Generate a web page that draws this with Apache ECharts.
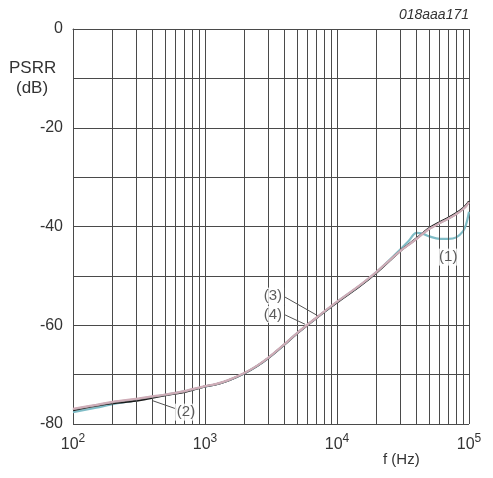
<!DOCTYPE html>
<html>
<head>
<meta charset="utf-8">
<script src="https://cdn.jsdelivr.net/npm/echarts@6/dist/echarts.min.js"></script>
<style>
html,body{margin:0;padding:0;background:#fff;}
#c{width:493px;height:478px;}
</style>
</head>
<body>
<div id="c"></div>
<script>
// frequencies (Hz)
var freq = [100,150,200,300,400,500,700,1000,1200,1500,2000,2500,3000,4000,5000,7000,10000,15000,20000,30000,35000,40000,45000,50000,60000,70000,80000,90000,95000,100000];
// PSRR (dB) curves
var curve1 = [-77.6,-76.7,-76.0,-75.2,-74.5,-74.1,-73.4,-72.4,-72.0,-71.2,-69.7,-68.2,-66.7,-63.9,-61.6,-58.5,-55.3,-51.9,-49.2,-44.7,-42.9,-41.3,-41.5,-42.0,-42.5,-42.5,-42.2,-41.0,-39.6,-37.0];
var curve2 = [-77.2,-76.3,-75.8,-75.3,-74.7,-74.2,-73.5,-72.4,-72.0,-71.2,-69.7,-68.2,-66.7,-63.9,-61.6,-58.5,-55.4,-52.0,-49.3,-45.0,-43.6,-42.4,-41.3,-40.3,-39.1,-38.2,-37.3,-36.3,-35.7,-34.9];
var curve3 = [-76.9,-76.1,-75.5,-74.9,-74.4,-74.0,-73.3,-72.3,-71.9,-71.1,-69.6,-68.1,-66.6,-63.8,-61.5,-58.4,-55.2,-51.8,-49.1,-45.0,-43.7,-42.5,-41.4,-40.5,-39.3,-38.4,-37.5,-36.5,-35.9,-35.1];
var curve4 = [-77.0,-76.2,-75.6,-75.0,-74.5,-74.1,-73.4,-72.4,-72.0,-71.2,-69.7,-68.2,-66.7,-63.9,-61.6,-58.5,-55.3,-51.9,-49.2,-45.0,-43.7,-42.5,-41.4,-40.5,-39.3,-38.4,-37.5,-36.5,-35.9,-35.1];
// axis ticks
var decades = [100,1000,10000];
var multipliers = [2,3,4,5,6,7,8,9];
var yTickLabels = [0,-20,-40,-60,-80];
// annotations: [label, freq, dB]
var annLabels = [['(1)',69600,-46.2],['(2)',718,-77.6],['(3)',3270,-54.1],['(4)',3270,-57.8]];
// leader lines: [[f1,db1],[f2,db2]]
var leaders = [[[614,-77.0],[403,-75.3]],[[4040,-54.3],[7180,-58.1]],[[4040,-57.9],[5730,-59.8]]];

var minorGrid = [];
decades.forEach(function(d){ multipliers.forEach(function(m){ minorGrid.push({xAxis: d*m}); }); });

function pairs(ys){ return freq.map(function(f,i){ return [f, ys[i]]; }); }

var gridColor = '#4a4a4a';
var FF = 'Liberation Sans, Arial, sans-serif';
var chart = echarts.init(document.getElementById('c'), null, {renderer:'canvas'});
chart.setOption({
  animation:false,
  backgroundColor:'#fff',
  grid:{left:73,right:24,top:29,bottom:54},
  xAxis:{
    type:'log', logBase:10, min:100, max:100000,
    axisLine:{show:true,lineStyle:{color:gridColor,width:1}},
    axisTick:{show:false},
    splitLine:{show:true,lineStyle:{color:gridColor,width:1}},
    axisLabel:{
      margin:7,
      formatter:function(v){ return '{b|10}{s|' + Math.round(Math.log10(v)) + '}'; },
      rich:{
        b:{fontSize:16,fontFamily:FF,color:'#333',lineHeight:22,verticalAlign:'bottom'},
        s:{fontSize:12,fontFamily:FF,color:'#333',lineHeight:22,verticalAlign:'bottom',padding:[0,0,8,0]}
      }
    }
  },
  yAxis:{
    type:'value', min:-80, max:0, interval:10,
    axisLine:{show:true,lineStyle:{color:gridColor,width:1}},
    axisTick:{show:false},
    splitLine:{show:true,lineStyle:{color:gridColor,width:1}},
    axisLabel:{
      margin:10, fontSize:16, color:'#333', fontFamily:FF,
      formatter:function(v){ return yTickLabels.indexOf(v) >= 0 ? String(v) : ''; }
    }
  },
  graphic:[
    {type:'text', left:9, top:60, style:{text:'PSRR', fontSize:17, fill:'#333', fontFamily:FF}},
    {type:'text', left:16, top:80, style:{text:'(dB)', fontSize:17, fill:'#333', fontFamily:FF}},
    {type:'text', right:24, top:8, style:{text:'018aaa171', fontSize:14, fontStyle:'italic', fill:'#333', fontFamily:FF}},
    {type:'text', left:383, top:452, style:{text:'f (Hz)', fontSize:15, fill:'#333', fontFamily:FF}}
  ],
  series:[
    {type:'line', name:'grid', data:[], silent:true, z:1,
      markLine:{silent:true, symbol:'none', label:{show:false}, lineStyle:{color:gridColor,width:1,type:'solid'}, data:minorGrid}},
    {type:'line', name:'(1)', data:pairs(curve1), showSymbol:false, smooth:0.35, z:3, lineStyle:{color:'#7fbcc6',width:2.2}},
    {type:'line', name:'(2)', data:pairs(curve2), showSymbol:false, smooth:0.35, z:4, lineStyle:{color:'#1a1a1a',width:2}},
    {type:'line', name:'(4)', data:pairs(curve4), showSymbol:false, smooth:0.35, z:5, lineStyle:{color:'#a89ca2',width:2}},
    {type:'line', name:'(3)', data:pairs(curve3), showSymbol:false, smooth:0.35, z:6, lineStyle:{color:'#cfadb8',width:2}},
    {type:'line', name:'leaders', data:[], silent:true, z:7,
      markLine:{silent:true, symbol:'none', label:{show:false}, lineStyle:{color:'#555',width:1,type:'solid'},
        data:leaders.map(function(l){ return [{coord:l[0]},{coord:l[1]}]; })}},
    {type:'scatter', name:'labels', z:8, symbolSize:1, itemStyle:{color:'rgba(0,0,0,0)'},
      data:annLabels.map(function(a){ return {name:a[0], value:[a[1],a[2]]}; }),
      label:{show:true, position:'inside', formatter:function(p){ return p.name; }, fontSize:15, color:'#333',
        fontFamily:FF, backgroundColor:'#fff', padding:[1,2]}}
  ]
});
</script>
</body>
</html>
